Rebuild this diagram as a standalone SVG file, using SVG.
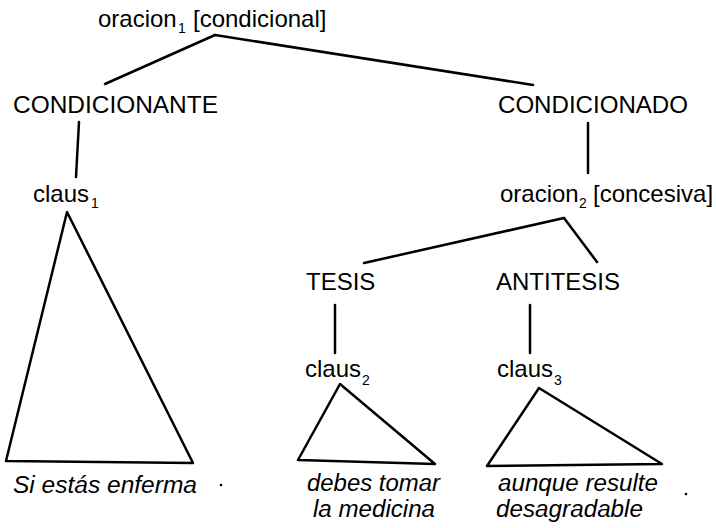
<svg xmlns="http://www.w3.org/2000/svg" width="716" height="528" viewBox="0 0 716 528">
<style>
.t{font-family:"Liberation Sans",Arial,Helvetica,sans-serif;font-size:24px;fill:#000}
.i{font-style:italic;font-size:23px}
.s{font-size:14px}
.e{stroke:#000;stroke-width:2.5;fill:none;stroke-linecap:round;stroke-linejoin:round}
</style>
<rect width="716" height="528" fill="#fff"/>
<g id="connectors" class="e">
<line x1="215" y1="35" x2="105" y2="84"/>
<line x1="215" y1="35" x2="533" y2="85"/>
<line x1="79" y1="122" x2="76" y2="177"/>
<line x1="588" y1="123" x2="588" y2="173"/>
<line x1="564" y1="218" x2="364" y2="263"/>
<line x1="564" y1="218" x2="597" y2="262"/>
<line x1="335" y1="305" x2="335" y2="353"/>
<line x1="530" y1="305" x2="530" y2="353"/>
</g>
<g id="oracion1"><text class="t" x="98" y="27">oracion<tspan class="s" x="178" y="33">1</tspan><tspan x="193" y="27">[condicional]</tspan></text></g>
<g id="condicionante"><text class="t" x="13" y="113" textLength="205" lengthAdjust="spacingAndGlyphs">CONDICIONANTE</text></g>
<g id="condicionado"><text class="t" x="498" y="113" textLength="190" lengthAdjust="spacingAndGlyphs">CONDICIONADO</text></g>
<g id="claus1"><text class="t" x="33" y="202">claus<tspan class="s" x="91" y="208">1</tspan></text></g>
<g id="oracion2"><text class="t" x="500" y="202">oracion<tspan class="s" x="579" y="208">2</tspan><tspan x="593" y="202">[concesiva]</tspan></text></g>
<g id="tesis"><text class="t" x="306" y="290">TESIS</text></g>
<g id="antitesis"><text class="t" x="496" y="290">ANTITESIS</text></g>
<g id="claus2"><text class="t" x="305" y="377">claus<tspan class="s" x="362" y="385">2</tspan></text></g>
<g id="claus3"><text class="t" x="497" y="377">claus<tspan class="s" x="554" y="385">3</tspan></text></g>
<g id="tri1"><polygon class="e" points="67,212 6,461 193,463"/><text class="t i" x="13" y="493" textLength="184" lengthAdjust="spacingAndGlyphs">Si estás enferma</text></g>
<g id="tri2"><polygon class="e" points="340,384 298,460 435,464"/><text class="t i" x="307" y="490.5" textLength="133" lengthAdjust="spacingAndGlyphs">debes tomar</text><text class="t i" x="313" y="517" textLength="122" lengthAdjust="spacingAndGlyphs">la medicina</text></g>
<g id="tri3"><polygon class="e" points="539,388 487,466 662,464"/><text class="t i" x="498" y="490.5" textLength="160" lengthAdjust="spacingAndGlyphs">aunque resulte</text><text class="t i" x="496" y="517" textLength="147" lengthAdjust="spacingAndGlyphs">desagradable</text></g>
<circle cx="221" cy="485" r="1.3" fill="#000"/>
<circle cx="686" cy="494" r="1.3" fill="#000"/>
</svg>
